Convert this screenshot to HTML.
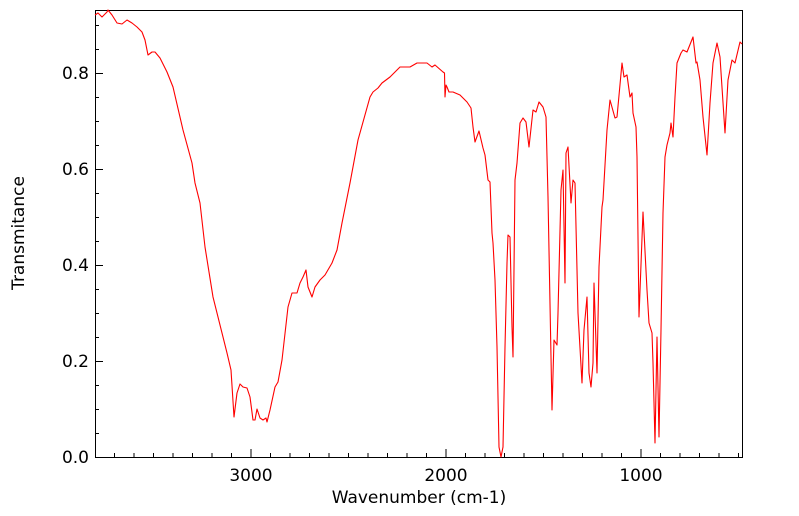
<!DOCTYPE html>
<html><head><meta charset="utf-8"><style>body{margin:0;background:#fff}svg{display:block}text{font-family:"DejaVu Sans","Liberation Sans",sans-serif;fill:#000}</style></head>
<body>
<svg width="799" height="516" viewBox="0 0 799 516" xmlns="http://www.w3.org/2000/svg">
<rect x="95.5" y="10.5" width="647" height="447" fill="none" stroke="#000" stroke-width="1"/>
<path stroke="#000" stroke-width="1" fill="none" d="
M114.5 457v-4M134 457v-4M153.5 457v-4M173 457v-4M192.5 457v-4M212 457v-4M231.5 457v-4M251 457v-8M270.5 457v-4M290 457v-4M309.5 457v-4M329 457v-4M348.5 457v-4M368 457v-4M387.5 457v-4M407 457v-4M426.5 457v-4M446 457v-8M465.5 457v-4M485 457v-4M504.5 457v-4M524 457v-4M543.5 457v-4M563 457v-4M582.5 457v-4M602 457v-4M621.5 457v-4M641 457v-8M660.5 457v-4M680 457v-4M699.5 457v-4M719 457v-4M738.5 457v-4
M95 433.5h4M95 409.5h4M95 385.5h4M95 361.5h8M95 337.5h4M95 313.5h4M95 289.5h4M95 265.5h8M95 241.5h4M95 217.5h4M95 193.5h4M95 169.5h8M95 145.5h4M95 121.5h4M95 97.5h4M95 73.5h8M95 49.5h4M95 25.5h4"/>
<polyline fill="none" stroke="#ff0000" stroke-width="1.1" stroke-linejoin="round" points="
95,15 98,13 102,17 107,12 108,10 112,15 117,23 122,24 127,20 132,23 137,27 142,32 145,40 148,55 152,52 155,52 160,58 167,72 173,87 183,130 192,163 195,183 200,203 205,247 213,297 222,333 227,353 231,370 234,417 237,393 240,384 243,387 247,388 250,397 253,420 255,420 257,409 260,418 263,420 266,418 267,422 270,410 275,387 278,382 282,360 288,307 292,293 297,293 300,283 303,277 306,270 308,287 312,297 315,287 320,280 325,275 332,263 337,250 342,223 350,183 358,140 370,97 373,92 378,88 382,83 390,77 400,67 410,67 417,63 427,63 432,67 435,65 443,72 444.5,73 445,97 446,85 447,87 449,92 453,92 460,95 467,102 471,108 473,127 475,142 479,131 483,148 485,155 488,180 490,182 492,233 493,243 495,280 497,347 499,447 501,457 503,447 505,347 507,263 508,235 510,237 512,327 513,357 515,180 517,163 520,123 523,118 526,122 529,147 533,110 536,112 539,102 543,107 546,117 548,197 552,410 554,340 557,345 558,313 561,190 563,170 565,283 566,153 568,147 571,203 573,180 575,183 578,313 582,383 584,330 587,297 589,373 591,387 593,363 594,283 597,373 599,267 602,207 603,200 607,130 610,100 615,118 617,117 622,63 624,77 627,75 630,97 632,93 633,113 636,127 637,157 639,317 643,212 647,290 649,323 652,333 653,363 655,443 657,337 659,437 661,330 663,213 665,157 667,145 670,133 671,123 673,137 675,97 677,63 681,53 683,50 687,52 693,37 696,63 697,62 700,80 703,117 707,155 710,103 713,63 717,43 720,57 725,133 728,80 732,60 735,63 740,42 742,44"/>
<g font-size="17" text-anchor="end">
<text x="89" y="463">0.0</text><text x="89" y="367">0.2</text><text x="89" y="271">0.4</text><text x="89" y="175">0.6</text><text x="89" y="79">0.8</text>
</g>
<g font-size="17" text-anchor="middle">
<text x="251" y="481">3000</text><text x="446" y="481">2000</text><text x="641" y="481">1000</text>
<text x="419" y="503">Wavenumber (cm-1)</text>
<text transform="translate(24,233) rotate(-90)">Transmitance</text>
</g>
</svg>
</body></html>
